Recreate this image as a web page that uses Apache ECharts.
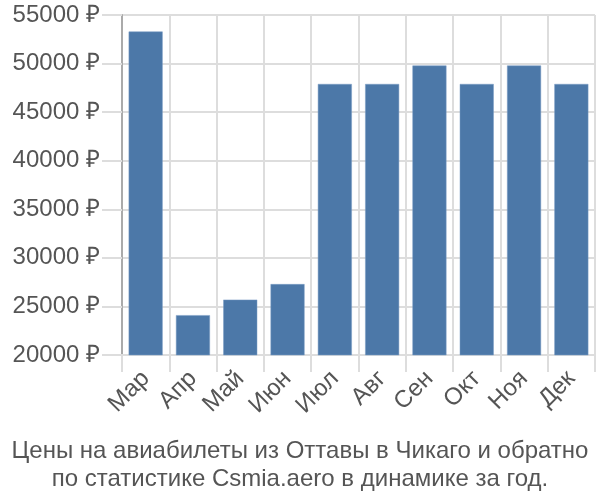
<!DOCTYPE html>
<html><head><meta charset="utf-8">
<script src="https://cdn.jsdelivr.net/npm/echarts@6/dist/echarts.min.js"></script>
<style>html,body{margin:0;padding:0;background:#fff}#c{width:600px;height:500px}</style>
</head><body><div id="c"></div>
<script>
const categories = ['Мар','Апр','Май','Июн','Июл','Авг','Сен','Окт','Ноя','Дек'];
const prices = [53300, 24100, 25700, 27300, 47900, 47900, 49800, 47900, 49800, 47900];
const yTicks = {min: 20000, max: 55000, step: 5000};
const titleLines = ['Цены на авиабилеты из Оттавы в Чикаго и обратно', 'по статистике Csmia.aero в динамике за год.'];

const chart = echarts.init(document.getElementById('c'), null, {renderer: 'canvas'});
chart.setOption({
  animation: false,
  textStyle: {fontFamily: 'Liberation Sans, Arial, sans-serif'},
  title: {
    text: titleLines.join('\n'),
    left: 'center', top: 432,
    textStyle: {fontSize: 24, fontWeight: 'normal', color: '#555', lineHeight: 28, fontFamily: 'Liberation Sans, Arial, sans-serif'}
  },
  grid: {left: 122, right: 5, top: 15, bottom: 145, containLabel: false},
  xAxis: {
    type: 'category', data: categories,
    axisLine: {show: true, lineStyle: {color: '#ddd', width: 2}},
    axisTick: {show: true, length: 17, interval: 0, lineStyle: {color: '#ddd', width: 2}},
    splitLine: {show: true, interval: 0, lineStyle: {color: '#ddd', width: 2}},
    axisLabel: {rotate: 45, interval: 0, fontSize: 24, color: '#555', margin: 20}
  },
  yAxis: {
    type: 'value', min: yTicks.min, max: yTicks.max, interval: yTicks.step,
    axisLine: {show: true, lineStyle: {color: '#aaa', width: 2}},
    axisTick: {show: true, length: 20, lineStyle: {color: '#ddd', width: 2}},
    splitLine: {show: true, lineStyle: {color: '#ddd', width: 2}},
    axisLabel: {fontSize: 24, color: '#555', margin: 22, formatter: v => v + ' ₽'}
  },
  series: [{
    type: 'bar', data: prices, barWidth: 34,
    itemStyle: {color: '#4c78a8', borderColor: '#7a9cc4', borderWidth: 0.5}
  }]
});
</script></body></html>
